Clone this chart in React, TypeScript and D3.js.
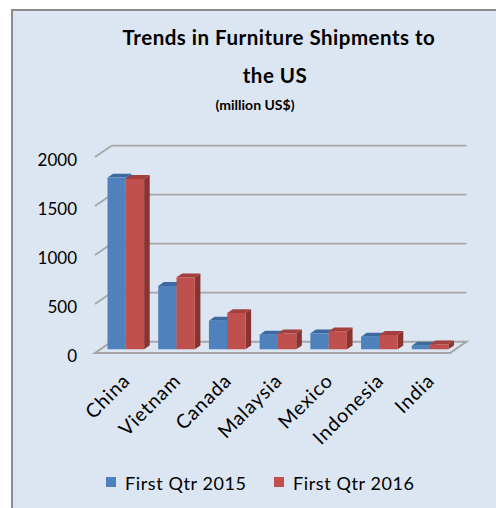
import React from "react";
import * as d3 from "d3";

const categories = ["China", "Vietnam", "Canada", "Malaysia", "Mexico", "Indonesia", "India"];
const seriesNames = ["First Qtr 2015", "First Qtr 2016"];
const values2015 = [1752, 646, 292, 149, 163, 129, 37];
const values2016 = [1738, 735, 370, 163, 184, 146, 51];
const yTicks = [0, 500, 1000, 1500, 2000];

const W = 496;
const H = 508;
const FRONT_X0 = 95;
const FRONT_X1 = 450;
const FRONT_Y0 = 353;
const DEPTH = { dx: 16.5, dy: -11.3 };
const BAR_OFF = 0.33;
const BAR_DEPTH = 0.34;
const BAR_W = 18.3;
const FONT = "Lato, 'Open Sans', sans-serif";
const COLORS = [
  { front: "#4f81bd", top: "#3c6a9f", side: "#345d8c" },
  { front: "#c0504d", top: "#a33f3c", side: "#8a3432" },
];

export default function App() {
  const y = d3.scaleLinear().domain([0, 2000]).range([0, 196]);
  const xGroup = d3.scaleBand<string>().domain(categories).range([FRONT_X0, FRONT_X1]).padding(0);
  const step = xGroup.step();
  const xSub = d3
    .scaleBand<string>()
    .domain(seriesNames)
    .range([(step - 2 * BAR_W) / 2, (step + 2 * BAR_W) / 2])
    .padding(0);
  const series = [values2015, values2016];

  const offX = DEPTH.dx * BAR_OFF;
  const offY = DEPTH.dy * BAR_OFF;
  const dX = DEPTH.dx * BAR_DEPTH;
  const dY = DEPTH.dy * BAR_DEPTH;

  const grid = "#a6a6a6";

  const bars: React.ReactNode[] = [];
  categories.forEach((c, i) => {
    seriesNames.forEach((s, j) => {
      const v = series[j][i];
      const x0 = (xGroup(c) as number) + (xSub(s) as number) + offX;
      const x1 = x0 + xSub.bandwidth();
      const yb = FRONT_Y0 + offY;
      const yt = yb - y(v);
      const col = COLORS[j];
      const side = `M${x1},${yb} L${x1 + dX},${yb + dY} L${x1 + dX},${yt + dY} L${x1},${yt} Z`;
      const top = `M${x0},${yt} L${x0 + dX},${yt + dY} L${x1 + dX},${yt + dY} L${x1},${yt} Z`;
      bars.push(
        <g key={`${c}-${s}`}>
          <path d={side} fill={col.side} />
          <path d={top} fill={col.top} />
          <rect x={x0} y={yt} width={x1 - x0} height={yb - yt} fill={col.front} />
        </g>
      );
    });
  });

  const floor = `M${FRONT_X0},${FRONT_Y0} L${FRONT_X1},${FRONT_Y0} L${FRONT_X1 + DEPTH.dx},${FRONT_Y0 + DEPTH.dy} L${FRONT_X0 + DEPTH.dx},${FRONT_Y0 + DEPTH.dy} Z`;

  return (
    <svg
      width={W}
      height={H}
      style={{ position: "absolute", left: 0, top: 0, background: "#ffffff" }}
    >
      <rect x={12} y={10} width={W} height={H} fill="#dce6f2" stroke="#8c8c8c" strokeWidth={2} />
      <text x={279} y={45} textAnchor="middle" fontFamily={FONT} fontWeight={700} fontSize={20.5} letterSpacing={0.5} fill="#000">
        Trends in Furniture Shipments to
      </text>
      <text x={275} y={83} textAnchor="middle" fontFamily={FONT} fontWeight={700} fontSize={20.5} letterSpacing={0.5} fill="#000">
        the US
      </text>
      <text x={255} y={110} textAnchor="middle" fontFamily={FONT} fontWeight={700} fontSize={14} fill="#000">
        (million US$)
      </text>

      {/* floor */}
      <path d={floor} fill="none" stroke={grid} strokeWidth={2} />

      {/* gridlines */}
      {yTicks.map((t) => {
        const yf = FRONT_Y0 - y(t);
        const yk = yf + DEPTH.dy;
        return (
          <g key={t}>
            {t > 0 && (
              <>
                <line x1={FRONT_X0} y1={yf} x2={FRONT_X0 + DEPTH.dx} y2={yk} stroke={grid} strokeWidth={1.8} />
                <line x1={FRONT_X0 + DEPTH.dx} y1={yk} x2={FRONT_X1 + DEPTH.dx} y2={yk} stroke={grid} strokeWidth={1.8} />
              </>
            )}
            <text x={77} y={yf + 2} textAnchor="end" dominantBaseline="central" fontFamily={FONT} fontSize={17} fill="#000">
              {t}
            </text>
          </g>
        );
      })}

      {bars}

      {/* category labels */}
      {categories.map((c) => {
        const cx = (xGroup(c) as number) + step / 2 + 11;
        const cy = 382;
        return (
          <text
            key={c}
            transform={`translate(${cx},${cy}) rotate(-45)`}
            textAnchor="end"
            fontFamily={FONT}
            fontSize={19.5}
            letterSpacing={0.9}
            fill="#000"
          >
            {c}
          </text>
        );
      })}

      {/* legend */}
      {seriesNames.map((s, j) => {
        const lx = j === 0 ? 106 : 274;
        return (
          <g key={s}>
            <rect x={lx} y={477} width={10} height={10} fill={COLORS[j].front} />
            <text x={lx + 19} y={483} dominantBaseline="central" fontFamily={FONT} fontSize={18} letterSpacing={0.6} fill="#000">
              {s}
            </text>
          </g>
        );
      })}
    </svg>
  );
}
